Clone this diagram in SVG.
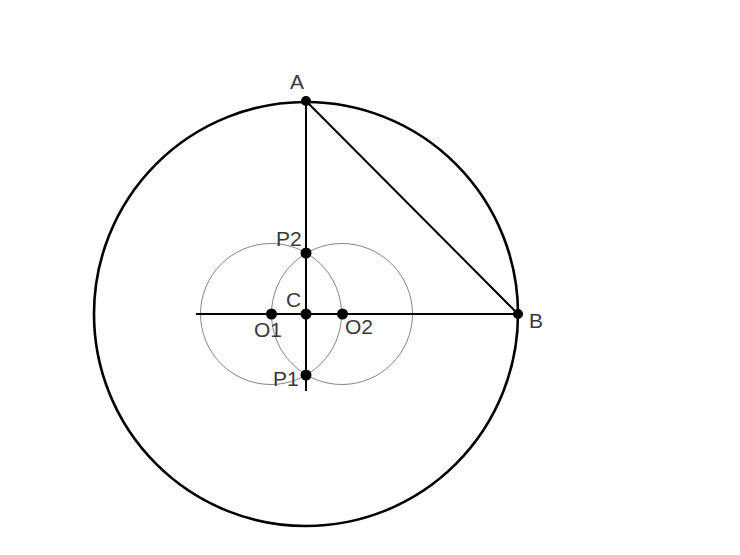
<svg xmlns="http://www.w3.org/2000/svg" width="740" height="555" viewBox="0 0 740 555">
<style>
.lbl{font-family:"Liberation Sans",Arial,sans-serif;font-size:21px;fill:#3a3a3a;}
.thin{fill:none;stroke:#777;stroke-width:0.9;}
.ln{fill:none;stroke:#000;stroke-width:2;}
.dot{fill:#000;}
</style>
<rect width="740" height="555" fill="#fff"/>
<g id="circles">
<circle id="bigCircle" cx="306" cy="314" r="212" fill="none" stroke="#000" stroke-width="2.6"/>
<circle id="circleO1" class="thin" cx="271" cy="314" r="70.5"/>
<circle id="circleO2" class="thin" cx="342" cy="314" r="70.5"/>
</g>
<g id="connectors">
<line class="ln" x1="196" y1="314" x2="518" y2="314"/>
<line class="ln" x1="306" y1="101" x2="306" y2="391"/>
<line class="ln" x1="306" y1="101" x2="518" y2="314"/>
</g>
<g id="A"><circle class="dot" cx="306" cy="101" r="5"/><text class="lbl" x="290" y="89">A</text></g>
<g id="B"><circle class="dot" cx="518" cy="314" r="5"/><text class="lbl" x="529" y="328">B</text></g>
<g id="C"><circle class="dot" cx="306" cy="314" r="5.5"/><text class="lbl" x="286" y="307">C</text></g>
<g id="O1"><circle class="dot" cx="271.5" cy="314" r="5.5"/><text class="lbl" x="254" y="337">O1</text></g>
<g id="O2"><circle class="dot" cx="342.5" cy="314" r="5.5"/><text class="lbl" x="345" y="334">O2</text></g>
<g id="P2"><circle class="dot" cx="306" cy="253" r="5.5"/><text class="lbl" x="276" y="246">P2</text></g>
<g id="P1"><circle class="dot" cx="306" cy="375" r="5.5"/><text class="lbl" x="273" y="386">P1</text></g>
</svg>
